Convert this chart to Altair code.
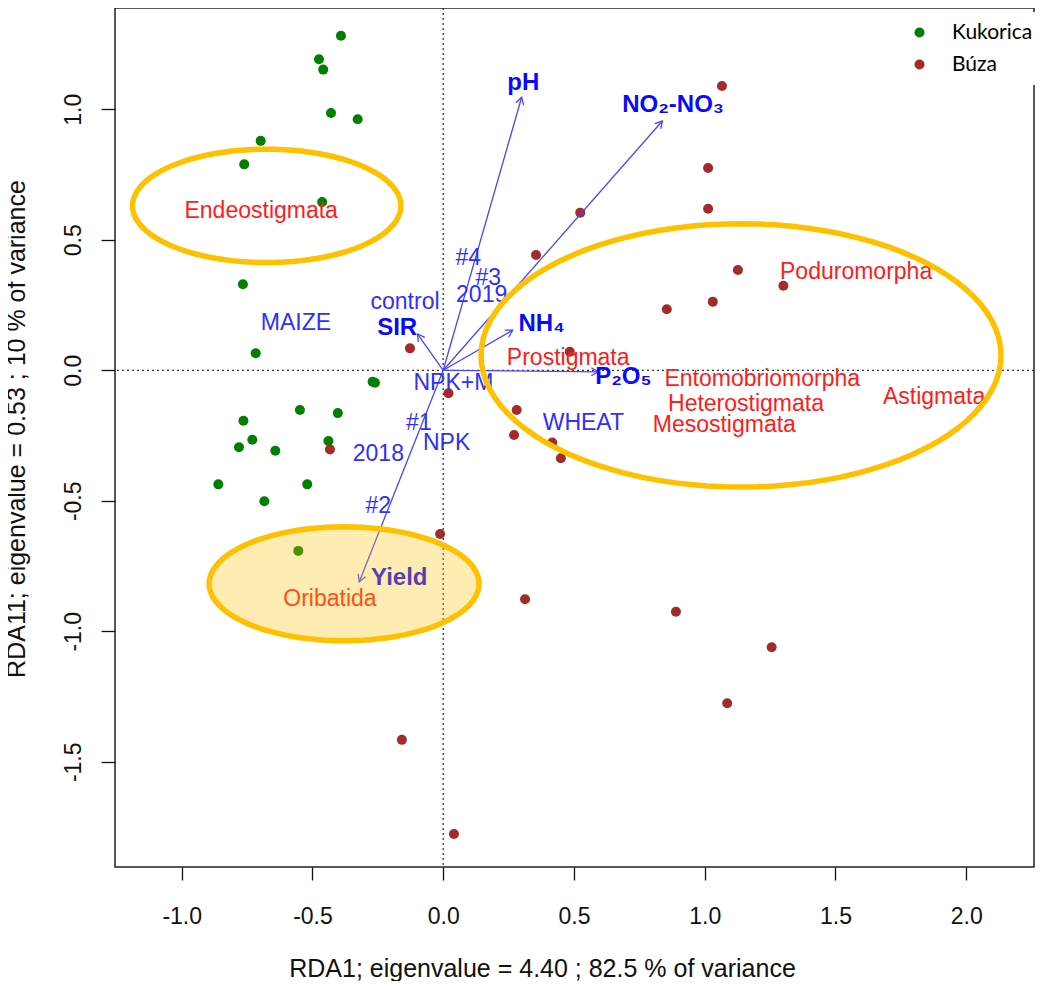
import altair as alt
import pandas as pd
import numpy as np

# ---------------- data ----------------
# Sample scores – maize (Kukorica)
maize_x = [-0.391, -0.475, -0.459, -0.429, -0.327, -0.698, -0.761, -0.463, -0.766, -0.717,
           -0.270, -0.261, -0.548, -0.403, -0.764, -0.730, -0.781, -0.642, -0.439, -0.860,
           -0.520, -0.684, -0.554]
maize_y = [1.282, 1.192, 1.152, 0.986, 0.962, 0.879, 0.789, 0.645, 0.330, 0.065,
           -0.044, -0.048, -0.152, -0.164, -0.193, -0.266, -0.295, -0.308, -0.271, -0.437,
           -0.437, -0.502, -0.692]
# Sample scores – wheat (Búza)
wheat_x = [1.066, 1.013, 1.013, 0.524, 1.127, 1.301, 1.031, 0.855, 0.484, 0.355,
           -0.127, 0.020, 0.281, 0.271, 0.417, 0.450, -0.433, -0.012, 0.313, -0.158,
           0.041, 0.890, 1.256, 1.086]
wheat_y = [1.089, 0.775, 0.619, 0.604, 0.384, 0.324, 0.263, 0.234, 0.071, 0.442,
           0.084, -0.088, -0.152, -0.248, -0.277, -0.337, -0.303, -0.627, -0.877, -1.416,
           -1.777, -0.925, -1.061, -1.276]

# Environmental vectors (arrow tips)
arrow_names = ["pH", "NO2-NO3", "NH4", "SIR", "P2O5", "Yield"]
arrow_x = [0.300, 0.838, 0.266, -0.098, 0.593, -0.321]
arrow_y = [1.046, 0.955, 0.154, 0.139, -0.006, -0.810]

# Labels of the environmental vectors
bold_text = ["pH", "NO₂-NO₃", "NH₄", "SIR", "P₂O₅", "Yield"]
bold_x = [0.306, 0.879, 0.376, -0.176, 0.689, -0.168]
bold_y = [1.100, 1.018, 0.176, 0.163, -0.025, -0.797]

# Factor centroids
factor_text = ["#4", "#3", "2019", "control", "MAIZE", "NPK+M", "#1", "NPK", "2018", "WHEAT", "#2"]
factor_x = [0.096, 0.172, 0.147, -0.146, -0.563, 0.039, -0.093, 0.013, -0.248, 0.536, -0.248]
factor_y = [0.429, 0.352, 0.289, 0.263, 0.181, -0.050, -0.201, -0.280, -0.321, -0.201, -0.520]

# Species scores
species = ["Endeostigmata", "Poduromorpha", "Prostigmata", "Entomobriomorpha",
           "Heterostigmata", "Mesostigmata", "Astigmata", "Oribatida"]
species_x = [-0.696, 1.579, 0.478, 1.220, 1.158, 1.075, 1.877, -0.433]
species_y = [0.611, 0.378, 0.046, -0.033, -0.129, -0.210, -0.101, -0.876]

# Highlight ellipse centres
ell_names = ["Endeostigmata", "Collembola & others", "Oribatida"]
ell_x = [-0.675, 1.139, -0.379]
ell_y = [0.630, 0.057, -0.818]

x_ticks = [-1.0, -0.5, 0.0, 0.5, 1.0, 1.5, 2.0]
y_ticks = [-1.5, -1.0, -0.5, 0.0, 0.5, 1.0]

# ---------------- layout / style ----------------
W, H = 919, 859
X_DOM = [-1.2551, 2.2593]
Y_DOM = [-1.9031, 1.3881]
FONT = "Liberation Sans"
BLUE = "#2f2fff"
BLUE_B = "#0a0aff"
RED = "#ff1c1c"
GOLD = "#FFC000"

lab_expr = "datum.value < 0 ? '-' + format(-datum.value, '.1f') : format(datum.value, '.1f')"

xscale = alt.Scale(domain=X_DOM, nice=False, zero=False)
yscale = alt.Scale(domain=Y_DOM, nice=False, zero=False)

xaxis = alt.Axis(values=x_ticks, labelExpr=lab_expr, labelFont=FONT, labelFontSize=23,
                 labelColor="#111", labelBaseline="alphabetic", labelPadding=43,
                 labelFlush=False, labelOverlap=False,
                 tickSize=13, tickColor="#111", tickWidth=1.3, domain=False, grid=False,
                 title="RDA1; eigenvalue =  4.40 ;  82.5 % of variance",
                 titleFont=FONT, titleFontSize=25, titleFontWeight="normal", titleColor="#111",
                 titleX=427, titleY=109, titleBaseline="alphabetic", titleAlign="center")
yaxis = alt.Axis(values=y_ticks, labelExpr=lab_expr, labelFont=FONT, labelFontSize=23,
                 labelColor="#111", labelAngle=270, labelAlign="center",
                 labelBaseline="alphabetic", labelPadding=21,
                 labelFlush=False, labelOverlap=False,
                 tickSize=14, tickColor="#111", tickWidth=1.3, domain=False, grid=False,
                 title="RDA11; eigenvalue = 0.53 ;  10 % of variance",
                 titleFont=FONT, titleFontSize=25, titleFontWeight="normal", titleColor="#111",
                 titleAngle=270, titleX=-91, titleY=420.5, titleBaseline="alphabetic",
                 titleAlign="center")


def X(field="x"):
    return alt.X(f"{field}:Q", scale=xscale, axis=xaxis)


def Y(field="y"):
    return alt.Y(f"{field}:Q", scale=yscale, axis=yaxis)


# ---------------- layers ----------------
vline = alt.Chart(pd.DataFrame({"x": [0.0]})).mark_rule(
    color="#333", strokeWidth=1.3, strokeDash=[2, 3]).encode(x=X())
hline = alt.Chart(pd.DataFrame({"y": [0.0]})).mark_rule(
    color="#333", strokeWidth=1.3, strokeDash=[2, 3]).encode(y=Y())

pts = pd.DataFrame({
    "x": maize_x + wheat_x,
    "y": maize_y + wheat_y,
    "crop": ["Kukorica"] * len(maize_x) + ["Búza"] * len(wheat_x),
})
points = alt.Chart(pts).mark_circle(size=100, opacity=1).encode(
    x=X(), y=Y(),
    color=alt.Color("crop:N",
                    scale=alt.Scale(domain=["Kukorica", "Búza"], range=["#008000", "#A52A2A"]),
                    legend=alt.Legend(orient="none", legendX=784, legendY=4, title=None,
                                      labelFont="Lato", labelFontSize=21, labelColor="#000",
                                      symbolSize=100, symbolType="circle", symbolOpacity=1,
                                      symbolStrokeWidth=0, labelOffset=22, rowPadding=10,
                                      padding=10, fillColor="white")),
)

arr = pd.DataFrame({"name": arrow_names, "x": arrow_x, "y": arrow_y})
arr["x0"] = 0.0
arr["y0"] = 0.0
arr["ang"] = np.degrees(np.arctan2(arr["x"] * W / (X_DOM[1] - X_DOM[0]),
                                   arr["y"] * H / (Y_DOM[1] - Y_DOM[0]))) % 360

arrow_lines = alt.Chart(arr).mark_rule(color="#4646ff", strokeWidth=1.3).encode(
    x=X("x0"), y=Y("y0"), x2="x:Q", y2="y:Q")
head_path = "M-0.5,0.866L0,0L0.5,0.866"
arrow_heads = alt.Chart(arr).mark_point(shape=head_path, size=256, filled=False,
                                        color="#4646ff", strokeWidth=1.3, opacity=1).encode(
    x=X(), y=Y(), angle=alt.Angle("ang:Q", scale=None))

factor_df = pd.DataFrame({"t": factor_text, "x": factor_x, "y": factor_y})
factor_labels = alt.Chart(factor_df).mark_text(font=FONT, fontSize=23, color=BLUE,
                                               align="center", baseline="middle").encode(
    x=X(), y=Y(), text="t:N")

bold_df = pd.DataFrame({"t": bold_text, "x": bold_x, "y": bold_y})
bold_labels = alt.Chart(bold_df).mark_text(font=FONT, fontSize=24, fontWeight="bold", color=BLUE_B,
                                           align="center", baseline="middle").encode(
    x=X(), y=Y(), text="t:N")

sp_df = pd.DataFrame({"t": species, "x": species_x, "y": species_y})
sp_labels = alt.Chart(sp_df).mark_text(font=FONT, fontSize=23, color=RED,
                                       align="center", baseline="middle").encode(
    x=X(), y=Y(), text="t:N")


def ellipse_path(k, n=96):
    pts_ = []
    for i in range(n):
        t = 2 * np.pi * i / n
        pts_.append(f"{np.cos(t):.4f},{k * np.sin(t):.4f}")
    return "M" + "L".join(pts_) + "Z"


# (rx, ry in pixels, filled?)
ell_style = [(134.2, 56.7, False), (260.0, 131.7, False), (135.0, 57.0, True)]
ell_layers = []
for i, (rx, ry, filled) in enumerate(ell_style):
    d = pd.DataFrame({"name": [ell_names[i]], "x": [ell_x[i]], "y": [ell_y[i]]})
    if filled:
        mk = alt.Chart(d).mark_point(shape=ellipse_path(ry / rx), size=(2 * rx) ** 2,
                                     filled=True, fill=GOLD, fillOpacity=0.3,
                                     stroke=GOLD, strokeOpacity=1, strokeWidth=5.5, opacity=1)
    else:
        mk = alt.Chart(d).mark_point(shape=ellipse_path(ry / rx), size=(2 * rx) ** 2,
                                     filled=False, stroke=GOLD, strokeWidth=5.5, opacity=1)
    ell_layers.append(mk.encode(x=X(), y=Y()))

chart = alt.layer(
    vline, hline, points, arrow_lines, arrow_heads,
    factor_labels, bold_labels, sp_labels, *ell_layers
).properties(
    width=W, height=H,
    autosize=alt.AutoSizeParams(type="none"),
    padding={"left": 107, "top": 0, "right": 1, "bottom": 114},
    background="white",
).configure_view(stroke="#222", strokeWidth=1.5)

chart.save("out.html", embed_options={"renderer": "svg", "actions": False})
